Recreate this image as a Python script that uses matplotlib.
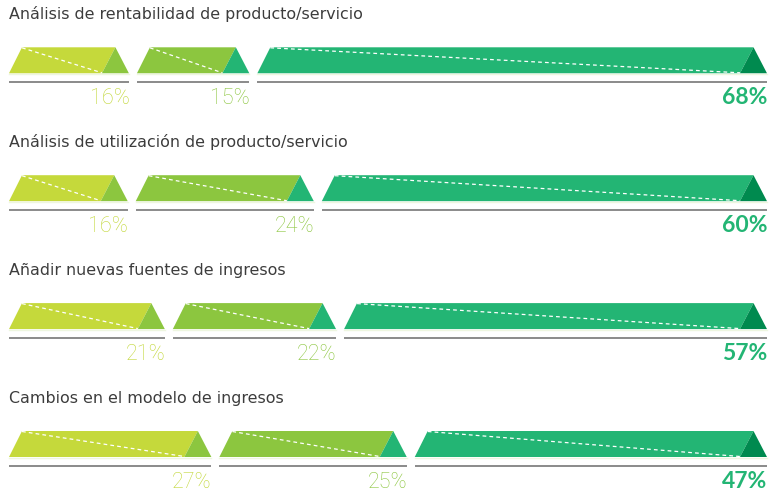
import matplotlib
matplotlib.use('Agg')
import matplotlib.pyplot as plt
from matplotlib.patches import Polygon

titles = [
    "Análisis de rentabilidad de producto/servicio",
    "Análisis de utilización de producto/servicio",
    "Añadir nuevas fuentes de ingresos",
    "Cambios en el modelo de ingresos",
]
seg1 = [16, 16, 21, 27]
seg2 = [15, 24, 22, 25]
seg3 = [68, 60, 57, 47]

body_colors = ['#c5d93b', '#8cc63f', '#23b574']
tip_colors = ['#8cc63f', '#23b574', '#008a4f']
text_colors = ['#c2d738', '#8cc63f', '#23b574']

W, H = 770, 491
fig = plt.figure(figsize=(W / 100, H / 100), dpi=100)
ax = fig.add_axes([0, 0, 1, 1])
ax.set_xlim(0, W)
ax.set_ylim(H, 0)
ax.axis('off')

left, right, gap = 9, 767, 8
row_step = 127.9
top0 = 47.3
bar_h = 26
slant = 13
tri_w = 27

for i, title in enumerate(titles):
    top = top0 + row_step * i
    bot = top + bar_h
    ax.text(left, top - 28.3, title, ha='left', va='baseline',
            fontsize=11.4, color='#3c3c3c', family='DejaVu Sans')
    vals = [seg1[i], seg2[i], seg3[i]]
    avail = (right - left) - gap * (len(vals) - 1)
    total = sum(vals)
    x = left
    for j, v in enumerate(vals):
        w = avail * v / total
        x0, x1 = x, x + w
        apex = x1 - tri_w / 2
        tl = tri_w
        body = Polygon([(x0, bot), (x0 + slant, top), (apex, top), (x1 - tl, bot)],
                       closed=True, facecolor=body_colors[j], edgecolor='none')
        ax.add_patch(body)
        tri = Polygon([(x1 - tl, bot), (apex, top), (x1, bot)],
                      closed=True, facecolor=tip_colors[j], edgecolor='none')
        ax.add_patch(tri)
        ax.plot([x0 + slant, x1 - tl], [top + 0.5, bot - 0.5], color='white',
                lw=0.9, ls=(0, (3, 2.5)), solid_capstyle='butt')
        ax.plot([x0, x1], [bot + 0.6, bot + 0.6], color='#eef6e0', lw=1.0)
        ax.plot([x0, x1], [top + 35, top + 35], color='#8a8a8a', lw=1.4,
                solid_capstyle='butt')
        if j == 2:
            ax.text(x1 + 0.5, top + 56.5, f"{v}%", ha='right', va='baseline',
                    fontsize=16.5, color=text_colors[j], family='Lato',
                    fontweight='bold')
        else:
            ax.text(x1 + 0.5, top + 56.5, f"{v}%", ha='right', va='baseline',
                    fontsize=15.5, color=text_colors[j], family='Roboto',
                    fontweight='light')
        x = x1 + gap

fig.savefig('out.png', dpi=100)
